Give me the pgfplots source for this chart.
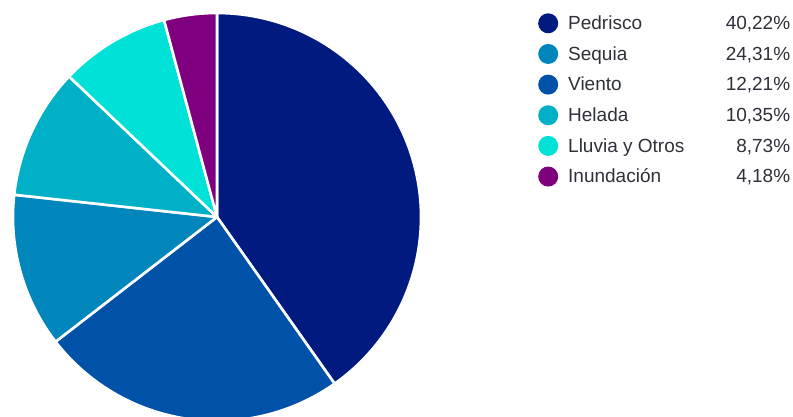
\documentclass[border=0pt]{standalone}
\usepackage{pgfplots}
\pgfplotsset{compat=1.18}
\usepackage{fontspec}
\setmainfont{Liberation Sans}
\definecolor{cPed}{HTML}{001A80}
\definecolor{cSlTwo}{HTML}{0052A8}
\definecolor{cSlThree}{HTML}{0086BA}
\definecolor{cHel}{HTML}{00B0C6}
\definecolor{cLlu}{HTML}{00E2D8}
\definecolor{cInu}{HTML}{7F007F}
\definecolor{txt}{HTML}{2E303A}
\definecolor{rim}{HTML}{E2F1F7}
\gdef\start{0}
\newcommand\slice[2]{%
  \pgfmathsetmacro\stop{\start+3.6*#1}%
  \edef\cmd{\noexpand\addplot[fill=#2, draw=white, line width=2.6pt, line join=round, domain=\start:\stop, samples=90, forget plot] ({sin(x)},{cos(x)}) -- (axis cs:0,0) -- cycle;}%
  \cmd
  \xdef\start{\stop}}
\begin{document}
\begin{tikzpicture}
\begin{axis}[
  scale only axis, width=793pt, height=416pt,
  xmin=-1.0637, xmax=2.8235, ymin=-0.9755, ymax=1.0637,
  hide axis, clip=true,
  legend cell align=left,
  legend image code/.code={\fill[#1] (10pt,0pt) circle (10pt);},
  legend style={draw=none, fill=none, at={(axis cs:1.5735,0.9995)}, anchor=north west,
    font=\fontsize{19}{22}\selectfont, text=txt,
    row sep=10.65pt, inner sep=0pt,
    nodes={inner sep=0pt},
    /tikz/every odd column/.append style={column sep=10pt}},
]
\addplot[draw=rim, line width=2.2pt, domain=0:360, samples=240, forget plot] ({sin(x)},{cos(x)});
\slice{40.22}{cPed}
\slice{24.31}{cSlTwo}
\slice{12.21}{cSlThree}
\slice{10.35}{cHel}
\slice{8.73}{cLlu}
\slice{4.18}{cInu}
\addlegendimage{draw=none, fill=cPed}
\addlegendentry{\makebox[222pt]{Pedrisco\hfill 40,22\%}}
\addlegendimage{draw=none, fill=cSlThree}
\addlegendentry{\makebox[222pt]{Sequia\hfill 24,31\%}}
\addlegendimage{draw=none, fill=cSlTwo}
\addlegendentry{\makebox[222pt]{Viento\hfill 12,21\%}}
\addlegendimage{draw=none, fill=cHel}
\addlegendentry{\makebox[222pt]{Helada\hfill 10,35\%}}
\addlegendimage{draw=none, fill=cLlu}
\addlegendentry{\makebox[222pt]{Lluvia y Otros\hfill 8,73\%}}
\addlegendimage{draw=none, fill=cInu}
\addlegendentry{\makebox[222pt]{Inundación\hfill 4,18\%}}
\end{axis}
\pgfresetboundingbox
\useasboundingbox (0,0) rectangle (793pt,416pt);
\end{tikzpicture}
\end{document}
